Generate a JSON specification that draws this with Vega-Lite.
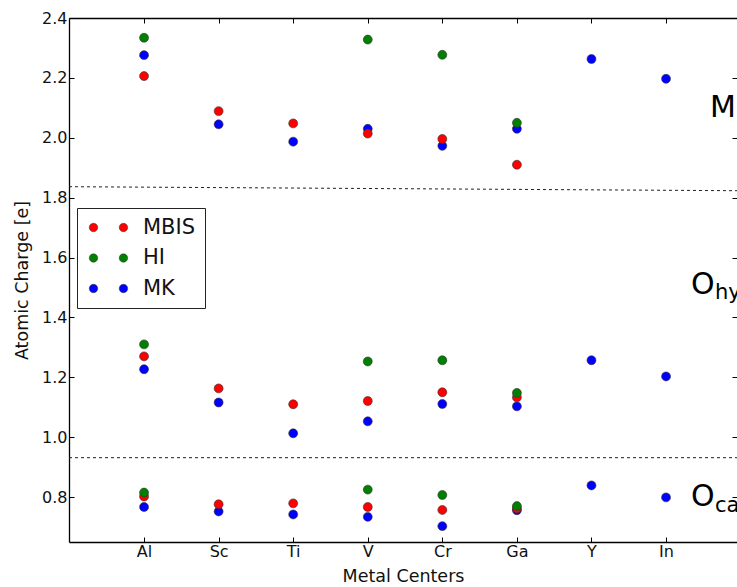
{
  "$schema": "https://vega.github.io/schema/vega-lite/v6.json",
  "width": 668,
  "height": 524,
  "autosize": {"type": "none"},
  "padding": {"left": 69, "top": 18, "right": 0, "bottom": 45},
  "background": "white",
  "config": {
    "view": {"stroke": null},
    "font": "DejaVu Sans",
    "axis": {
      "grid": false,
      "domainColor": "black",
      "domainWidth": 1.3,
      "tickColor": "black",
      "tickWidth": 1,
      "tickSize": -5,
      "labelColor": "#111",
      "titleColor": "#111",
      "labelFont": "DejaVu Sans",
      "titleFont": "DejaVu Sans",
      "labelFontSize": 16,
      "titleFontSize": 17.5,
      "titleFontWeight": "normal"
    },
    "legend": {
      "labelFont": "DejaVu Sans",
      "labelFontSize": 21,
      "labelColor": "#111"
    }
  },
  "data": {
    "values": [
      {"metal": "Al", "method": "MBIS", "site": "M", "charge": 2.206},
      {"metal": "Al", "method": "MBIS", "site": "Ohy", "charge": 1.270},
      {"metal": "Al", "method": "MBIS", "site": "Oca", "charge": 0.802},
      {"metal": "Sc", "method": "MBIS", "site": "M", "charge": 2.089},
      {"metal": "Sc", "method": "MBIS", "site": "Ohy", "charge": 1.163},
      {"metal": "Sc", "method": "MBIS", "site": "Oca", "charge": 0.776},
      {"metal": "Ti", "method": "MBIS", "site": "M", "charge": 2.048},
      {"metal": "Ti", "method": "MBIS", "site": "Ohy", "charge": 1.110},
      {"metal": "Ti", "method": "MBIS", "site": "Oca", "charge": 0.779},
      {"metal": "V", "method": "MBIS", "site": "M", "charge": 2.014},
      {"metal": "V", "method": "MBIS", "site": "Ohy", "charge": 1.121},
      {"metal": "V", "method": "MBIS", "site": "Oca", "charge": 0.767},
      {"metal": "Cr", "method": "MBIS", "site": "M", "charge": 1.996},
      {"metal": "Cr", "method": "MBIS", "site": "Ohy", "charge": 1.150},
      {"metal": "Cr", "method": "MBIS", "site": "Oca", "charge": 0.757},
      {"metal": "Ga", "method": "MBIS", "site": "M", "charge": 1.910},
      {"metal": "Ga", "method": "MBIS", "site": "Ohy", "charge": 1.133},
      {"metal": "Ga", "method": "MBIS", "site": "Oca", "charge": 0.762},
      {"metal": "Al", "method": "HI", "site": "M", "charge": 2.334},
      {"metal": "Al", "method": "HI", "site": "Ohy", "charge": 1.310},
      {"metal": "Al", "method": "HI", "site": "Oca", "charge": 0.815},
      {"metal": "V", "method": "HI", "site": "M", "charge": 2.328},
      {"metal": "V", "method": "HI", "site": "Ohy", "charge": 1.253},
      {"metal": "V", "method": "HI", "site": "Oca", "charge": 0.825},
      {"metal": "Cr", "method": "HI", "site": "M", "charge": 2.277},
      {"metal": "Cr", "method": "HI", "site": "Ohy", "charge": 1.257},
      {"metal": "Cr", "method": "HI", "site": "Oca", "charge": 0.807},
      {"metal": "Ga", "method": "HI", "site": "M", "charge": 2.050},
      {"metal": "Ga", "method": "HI", "site": "Ohy", "charge": 1.148},
      {"metal": "Ga", "method": "HI", "site": "Oca", "charge": 0.770},
      {"metal": "Al", "method": "MK", "site": "M", "charge": 2.276},
      {"metal": "Al", "method": "MK", "site": "Ohy", "charge": 1.227},
      {"metal": "Al", "method": "MK", "site": "Oca", "charge": 0.767},
      {"metal": "Sc", "method": "MK", "site": "M", "charge": 2.045},
      {"metal": "Sc", "method": "MK", "site": "Ohy", "charge": 1.116},
      {"metal": "Sc", "method": "MK", "site": "Oca", "charge": 0.752},
      {"metal": "Ti", "method": "MK", "site": "M", "charge": 1.987},
      {"metal": "Ti", "method": "MK", "site": "Ohy", "charge": 1.013},
      {"metal": "Ti", "method": "MK", "site": "Oca", "charge": 0.742},
      {"metal": "V", "method": "MK", "site": "M", "charge": 2.030},
      {"metal": "V", "method": "MK", "site": "Ohy", "charge": 1.053},
      {"metal": "V", "method": "MK", "site": "Oca", "charge": 0.734},
      {"metal": "Cr", "method": "MK", "site": "M", "charge": 1.973},
      {"metal": "Cr", "method": "MK", "site": "Ohy", "charge": 1.111},
      {"metal": "Cr", "method": "MK", "site": "Oca", "charge": 0.703},
      {"metal": "Ga", "method": "MK", "site": "M", "charge": 2.030},
      {"metal": "Ga", "method": "MK", "site": "Ohy", "charge": 1.103},
      {"metal": "Ga", "method": "MK", "site": "Oca", "charge": 0.756},
      {"metal": "Y", "method": "MK", "site": "M", "charge": 2.263},
      {"metal": "Y", "method": "MK", "site": "Ohy", "charge": 1.257},
      {"metal": "Y", "method": "MK", "site": "Oca", "charge": 0.839},
      {"metal": "In", "method": "MK", "site": "M", "charge": 2.197},
      {"metal": "In", "method": "MK", "site": "Ohy", "charge": 1.203},
      {"metal": "In", "method": "MK", "site": "Oca", "charge": 0.799}
    ]
  },
  "layer": [
    {
      "mark": {"type": "point", "filled": true, "opacity": 1, "size": 80, "stroke": "#333", "strokeWidth": 0.6},
      "encoding": {
        "x": {
          "field": "metal", "type": "nominal",
          "scale": {"type": "point", "domain": ["Al", "Sc", "Ti", "V", "Cr", "Ga", "Y", "In"], "padding": 0.979, "align": 0.514},
          "axis": {"orient": "bottom", "title": "Metal Centers", "labelAngle": 0, "labelPadding": 6, "titlePadding": 8}
        },
        "y": {
          "field": "charge", "type": "quantitative",
          "scale": {"domain": [0.65, 2.4], "nice": false, "zero": false},
          "axis": {"orient": "left", "title": "Atomic Charge [e]", "values": [0.8, 1.0, 1.2, 1.4, 1.6, 1.8, 2.0, 2.2, 2.4], "format": ".1f", "labelPadding": 7, "titlePadding": 10}
        },
        "color": {
          "field": "method", "type": "nominal",
          "scale": {"domain": ["MBIS", "HI", "MK"], "range": ["#ff0000", "#008000", "#0000ff"]},
          "legend": {
            "title": null,
            "orient": "none",
            "legendX": 8,
            "legendY": 190,
            "strokeColor": "#222",
            "fillColor": "white",
            "padding": 9,
            "rowPadding": 8.5,
            "symbolSize": 72,
            "symbolOffset": -3,
            "symbolType": "M -1 0 A 1 1 0 1 0 1 0 A 1 1 0 1 0 -1 0 Z M 6.06 0 A 1 1 0 1 0 8.06 0 A 1 1 0 1 0 6.06 0 Z",
            "symbolStrokeColor": "#333",
            "symbolStrokeWidth": 0.5,
            "labelOffset": 39,
            "labelLimit": 300
          }
        },
        "order": {"field": "method", "sort": "descending"}
      }
    },
    {
      "mark": {"type": "point", "opacity": 0},
      "encoding": {
        "x": {
          "field": "metal", "type": "nominal",
          "scale": {"type": "point", "domain": ["Al", "Sc", "Ti", "V", "Cr", "Ga", "Y", "In"], "padding": 0.979, "align": 0.514},
          "axis": {"orient": "top", "title": null, "labels": false, "domain": true}
        },
        "y": {
          "field": "charge", "type": "quantitative",
          "axis": {"orient": "right", "title": null, "labels": false, "domain": false, "values": [0.8, 1.0, 1.2, 1.4, 1.6, 1.8, 2.0, 2.2, 2.4]}
        }
      }
    },
    {
      "layer": [
        {
          "data": {"values": [
            {"from": 0, "to": 8.96, "start": 1.8366, "end": 1.8232},
            {"from": 0, "to": 8.96, "start": 0.9316, "end": 0.9316}
          ]},
          "mark": {"type": "rule", "color": "#222", "strokeWidth": 1, "strokeDash": [3, 3]},
          "encoding": {
            "x": {"field": "from", "type": "quantitative", "scale": {"domain": [0, 8.96], "nice": false, "zero": false}, "axis": null},
            "x2": {"field": "to"},
            "y": {"field": "start", "type": "quantitative", "axis": null},
            "y2": {"field": "end"}
          }
        },
        {
          "data": {"values": [{"label": "M", "pos": 8.598, "charge": 2.07}]},
          "mark": {"type": "text", "align": "left", "baseline": "alphabetic", "fontSize": 30, "font": "DejaVu Sans", "color": "black"},
          "encoding": {
            "x": {"field": "pos", "type": "quantitative", "axis": null},
            "y": {"field": "charge", "type": "quantitative", "axis": null},
            "text": {"field": "label"}
          }
        },
        {
          "data": {"values": [{"label": "O", "pos": 8.343, "charge": 1.478}, {"label": "O", "pos": 8.343, "charge": 0.769}]},
          "mark": {"type": "text", "align": "left", "baseline": "alphabetic", "fontSize": 30, "font": "DejaVu Sans", "color": "black"},
          "encoding": {
            "x": {"field": "pos", "type": "quantitative", "axis": null},
            "y": {"field": "charge", "type": "quantitative", "axis": null},
            "text": {"field": "label"}
          }
        },
        {
          "data": {"values": [{"label": "hy", "pos": 8.665, "charge": 1.46}, {"label": "ca", "pos": 8.665, "charge": 0.75}]},
          "mark": {"type": "text", "align": "left", "baseline": "alphabetic", "fontSize": 21, "font": "DejaVu Sans", "color": "black"},
          "encoding": {
            "x": {"field": "pos", "type": "quantitative", "axis": null},
            "y": {"field": "charge", "type": "quantitative", "axis": null},
            "text": {"field": "label"}
          }
        }
      ]
    }
  ],
  "resolve": {
    "scale": {"x": "independent"},
    "axis": {"x": "independent", "y": "independent"}
  }
}
